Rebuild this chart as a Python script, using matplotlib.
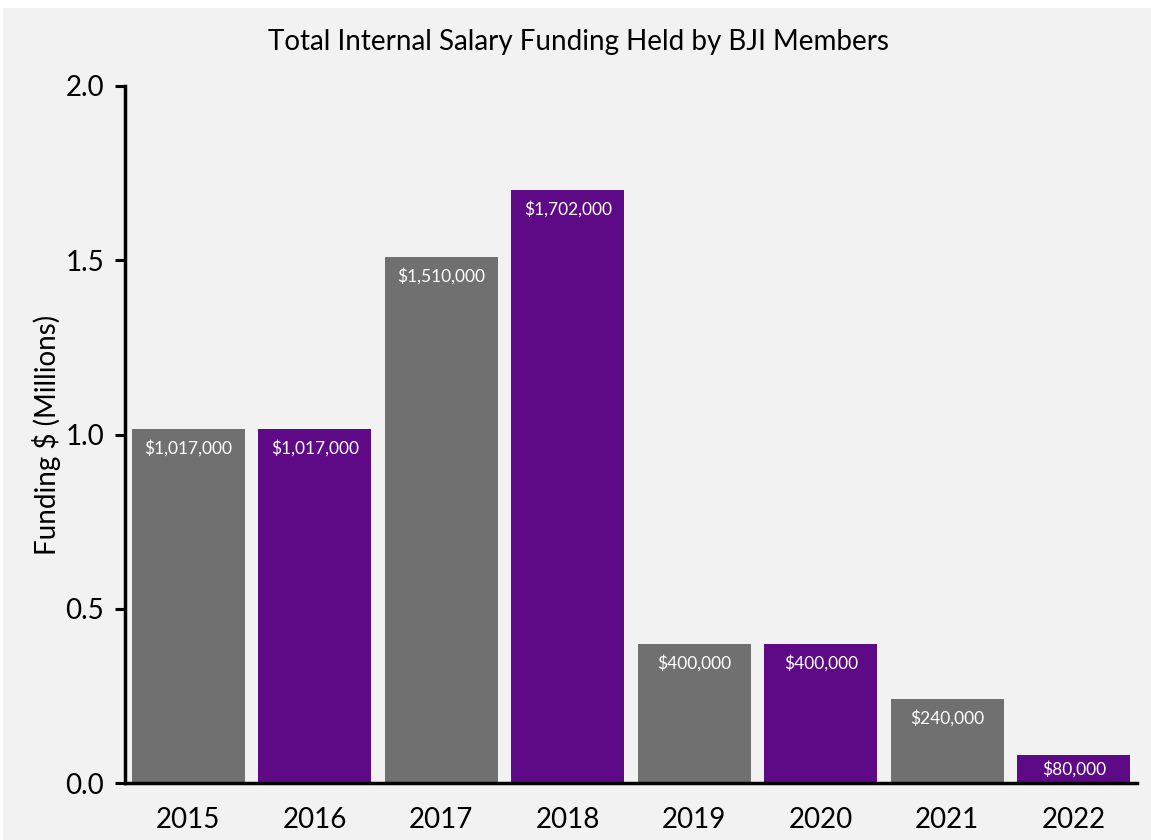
import matplotlib.pyplot as plt
from matplotlib.patches import Rectangle

plt.rcParams['font.family'] = ['Lato', 'DejaVu Sans']

# Data
years = ['2015', '2016', '2017', '2018', '2019', '2020', '2021', '2022']
funding = [1017000, 1017000, 1510000, 1702000, 400000, 400000, 240000, 80000]
bar_colors = ['#6f706f', '#5e0a87'] * 4

fig = plt.figure(figsize=(11.51, 8.4), dpi=100, facecolor='white')
# light grey panel (leaves a thin white margin at top and left like the reference)
fig.add_artist(Rectangle((3 / 1151, 0), 1, 1 - 8 / 840, transform=fig.transFigure,
                         facecolor='#f2f2f2', edgecolor='none', zorder=-10))

ax = fig.add_axes([125 / 1151, 1 - 783 / 840, 1012 / 1151, 697 / 840])
ax.patch.set_alpha(0)

values = [v / 1e6 for v in funding]
x = range(len(years))
bars = ax.bar(x, values, width=0.89, color=bar_colors, zorder=2)

# value labels just inside the top of each bar (centred in very short bars)
for xi, v, f in zip(x, values, funding):
    ypos = max(v - 0.055, v / 2)
    ax.text(xi, ypos, f'${f:,}', ha='center', va='center', color='white', fontsize=12.5)

ax.set_xlim(-0.5, 7.5)
ax.set_ylim(0, 2.0)
ax.set_xticks(list(x))
ax.set_xticklabels(years)
ax.set_yticks([0, 0.5, 1.0, 1.5, 2.0])
ax.set_yticklabels(['0.0', '0.5', '1.0', '1.5', '2.0'])
ax.tick_params(axis='x', length=0, labelsize=20, pad=17)
ax.tick_params(axis='y', length=7, width=2.2, labelsize=20, pad=8, direction='out')

for side in ['top', 'right']:
    ax.spines[side].set_visible(False)
ax.spines['left'].set_linewidth(2.5)
ax.spines['bottom'].set_linewidth(2.5)

ax.set_ylabel('Funding $ (Millions)', fontsize=20, labelpad=3)
fig.text(579 / 1151, 1 - 42 / 840, 'Total Internal Salary Funding Held by BJI Members',
         ha='center', va='center', fontsize=20)

fig.savefig('out.png', dpi=100, facecolor=fig.get_facecolor())
